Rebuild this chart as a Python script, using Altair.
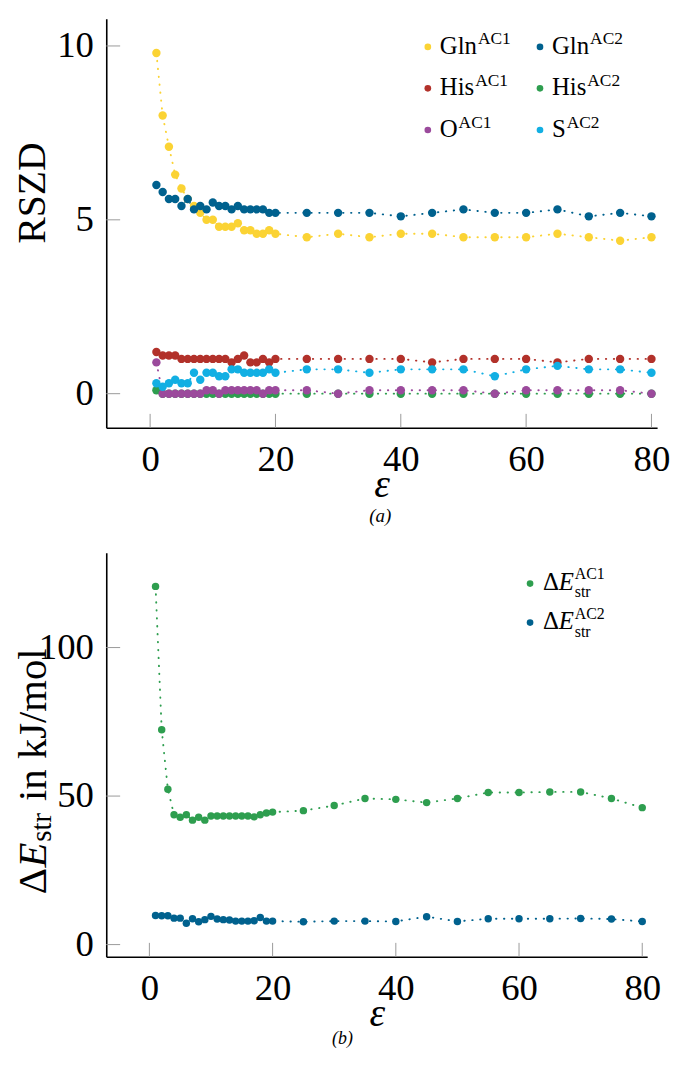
import altair as alt
import pandas as pd

FONT = "Liberation Serif"

# ---------------- data ----------------
eps = list(range(1, 21)) + [25, 30, 35, 40, 45, 50, 55, 60, 65, 70, 75, 80]

# panel (a): RSZD
series_a = ["Gln AC1", "Gln AC2", "His AC1", "His AC2", "O AC1", "S AC2"]
base_a = ["Gln", "Gln", "His", "His", "O", "S"]
sup_a = ["AC1", "AC2", "AC1", "AC2", "AC1", "AC2"]
colors_a = ["#FBD334", "#00618E", "#B2312A", "#2E9E4F", "#9B4A9C", "#12AFE3"]

gln_ac1 = [9.8, 8.0, 7.1, 6.3, 5.9, 5.6, 5.4, 5.2, 5.0, 5.0, 4.8, 4.8, 4.8, 4.9, 4.7, 4.7,
           4.6, 4.6, 4.7, 4.6, 4.5, 4.6, 4.5, 4.6, 4.6, 4.5, 4.5, 4.5, 4.6, 4.5, 4.4, 4.5]
gln_ac2 = [6.0, 5.8, 5.6, 5.6, 5.4, 5.6, 5.3, 5.4, 5.3, 5.5, 5.4, 5.4, 5.3, 5.4, 5.3, 5.3,
           5.3, 5.3, 5.2, 5.2, 5.2, 5.2, 5.2, 5.1, 5.2, 5.3, 5.2, 5.2, 5.3, 5.1, 5.2, 5.1]
his_ac1 = [1.2, 1.1, 1.1, 1.1, 1.0, 1.0, 1.0, 1.0, 1.0, 1.0, 1.0, 1.0, 0.9, 1.0, 1.1, 0.9,
           0.9, 1.0, 0.9, 1.0, 1.0, 1.0, 1.0, 1.0, 0.9, 1.0, 1.0, 1.0, 0.9, 1.0, 1.0, 1.0]
his_ac2 = [0.1, 0.0, 0.0, 0.0, 0.0, 0.0, 0.0, 0.0, 0.0, 0.0, 0.0, 0.0, 0.0, 0.0, 0.0, 0.0,
           0.0, 0.0, 0.0, 0.0, 0.0, 0.0, 0.0, 0.0, 0.0, 0.0, 0.0, 0.0, 0.0, 0.0, 0.0, 0.0]
o_ac1 = [0.9, 0.0, 0.0, 0.0, 0.0, 0.0, 0.0, 0.0, 0.1, 0.1, 0.0, 0.1, 0.1, 0.1, 0.1, 0.1,
         0.1, 0.0, 0.1, 0.1, 0.1, 0.0, 0.1, 0.1, 0.1, 0.1, 0.0, 0.1, 0.1, 0.1, 0.1, 0.0]
s_ac2 = [0.3, 0.2, 0.3, 0.4, 0.3, 0.3, 0.6, 0.4, 0.6, 0.6, 0.5, 0.5, 0.7, 0.7, 0.6, 0.6,
         0.6, 0.6, 0.7, 0.6, 0.7, 0.7, 0.6, 0.7, 0.7, 0.7, 0.5, 0.7, 0.8, 0.7, 0.7, 0.6]

# panel (b): strain energy
series_b = ["dE AC1", "dE AC2"]
sup_b = ["AC1", "AC2"]
colors_b = ["#2E9E4F", "#00618E"]
de_ac1 = [120.6, 72.3, 52.3, 43.7, 42.9, 43.7, 41.9, 42.9, 41.9, 43.3, 43.3, 43.3, 43.3, 43.3,
          43.3, 43.3, 43.0, 43.7, 44.3, 44.6, 45.1, 46.8, 49.2, 48.9, 47.8, 49.2, 51.2, 51.2,
          51.4, 51.4, 49.2, 46.1]
de_ac2 = [9.8, 9.7, 9.7, 8.9, 8.9, 7.2, 8.7, 7.7, 8.4, 9.5, 8.6, 8.4, 8.3, 7.9, 7.9, 7.9,
          8.0, 9.1, 7.9, 7.9, 7.7, 7.9, 7.9, 7.8, 9.4, 7.8, 8.7, 8.7, 8.7, 8.8, 8.6, 7.8]

x_ticks = [0, 20, 40, 60, 80]
y_ticks_a = [0, 5, 10]
y_ticks_b = [0, 50, 100]


def long_df(names, arrays):
    rows = []
    for n, arr in zip(names, arrays):
        for e, v in zip(eps, arr):
            rows.append({"series": n, "eps": e, "val": v})
    return pd.DataFrame(rows)


df_a = long_df(series_a, [gln_ac1, gln_ac2, his_ac1, his_ac2, o_ac1, s_ac2])
df_b = long_df(series_b, [de_ac1, de_ac2])

TICK_LEN = 14
TICK_COLOR = "#9a9a9a"
LBL = 37


def make_axis(ticks, **kw):
    return alt.Axis(values=ticks, ticks=False, tickSize=0, grid=False, domain=True,
                    domainColor="black", domainWidth=1.6, labelFont=FONT,
                    labelFontSize=LBL, labelColor="black", labelFlush=False,
                    labelOverlap=False, titleFont=FONT, titleFontSize=40,
                    titleFontWeight="normal", titleColor="black", **kw)


def panel(df, names, colors, xdom, ydom, w, h, yticks, yaxis_kw, size, x_title_y):
    xs = alt.Scale(domain=xdom, nice=False, zero=False)
    ys = alt.Scale(domain=ydom, nice=False, zero=False)
    xaxis = make_axis(x_ticks, labelPadding=14, title="ε",
                      titleFontStyle="italic", titleY=x_title_y,
                      titleBaseline="alphabetic")
    yaxis = make_axis(yticks, labelPadding=13, **yaxis_kw)
    color = alt.Color("series:N", scale=alt.Scale(domain=names, range=colors), legend=None)
    xe = alt.X("eps:Q", scale=xs, axis=xaxis)
    ye = alt.Y("val:Q", scale=ys, axis=yaxis)
    base = alt.Chart(df)
    lines = base.mark_line(strokeDash=[0.4, 7.6], strokeCap="round", strokeWidth=1.9).encode(
        x=xe, y=ye, color=color)
    pts = base.mark_circle(size=size, opacity=1).encode(x=xe, y=ye, color=color)
    yt = alt.Chart(pd.DataFrame({"v": yticks})).mark_rule(color=TICK_COLOR, strokeWidth=1).encode(
        y=alt.Y("v:Q", scale=ys, axis=yaxis), x=alt.value(0), x2=alt.value(TICK_LEN))
    xt = alt.Chart(pd.DataFrame({"v": x_ticks})).mark_rule(color=TICK_COLOR, strokeWidth=1).encode(
        x=alt.X("v:Q", scale=xs, axis=xaxis), y=alt.value(h), y2=alt.value(h - TICK_LEN))
    return [yt, xt, lines, pts]


def label(text, x, y, size=25, style="normal", angle=0, align="left", baseline="alphabetic"):
    kw = dict(text=text, font=FONT, fontSize=size, fontStyle=style, color="black",
              align=align, baseline=baseline)
    if angle:
        kw["angle"] = angle
    return alt.Chart(pd.DataFrame({"t": [text]})).mark_text(**kw).encode(
        x=alt.value(x), y=alt.value(y))


def dot(color, x, y, size=45):
    return alt.Chart(pd.DataFrame({"c": [color]})).mark_circle(size=size, opacity=1, color=color).encode(
        x=alt.value(x), y=alt.value(y))


# ---------------- panel (a) ----------------
WA, HA = 555, 412
layers_a = panel(df_a, series_a, colors_a, [-7.0, 80.9], [-0.98, 10.78], WA, HA, y_ticks_a,
                 dict(title="RSZD", titleAngle=270, titleX=-62, titleY=175,
                      titleAlign="center", titleBaseline="alphabetic"), 72, 69)

col_dot = [324.0, 437.0]
col_txt = [336.0, 449.0]
row_dot = [28.3, 70.0, 112.0]
row_txt = [35.0, 77.0, 119.0]
base_w = {"Gln": 37.5, "His": 34.7, "O": 18.0, "S": 13.9}
for i, (b, s, c) in enumerate(zip(base_a, sup_a, colors_a)):
    col, row = i % 2, i // 2
    layers_a.append(dot(c, col_dot[col], row_dot[row]))
    layers_a.append(label(b, col_txt[col], row_txt[row], 25))
    layers_a.append(label(s, col_txt[col] + base_w[b] + 1, row_txt[row] - 9.5, 17.5))
layers_a.append(label("(a)", 276.0, 501, 19, "italic", align="center", baseline="middle"))
chart_a = alt.layer(*layers_a).properties(width=WA, height=HA)

# ---------------- panel (b) ----------------
WB, HB = 545, 407
layers_b = panel(df_b, series_b, colors_b, [-7.0, 80.8], [-4.1, 131.9], WB, HB, y_ticks_b,
                 dict(title=None), 56, 69)

# rotated y title: ΔE_str in kJ/mol
BX = -61.0
layers_b += [
    label("Δ", BX, 344, 41, angle=270),
    label("E", BX, 317, 41, "italic", angle=270),
    label("str", BX + 5, 291, 29, angle=270),
    label("in kJ/mol", BX, 250, 41, angle=270),
]
rowb_dot = [31.0, 70.3]
rowb_txt = [37.0, 77.0]
for i, (s, c) in enumerate(zip(sup_b, colors_b)):
    layers_b.append(dot(c, 427, rowb_dot[i]))
    layers_b.append(label("Δ", 440, rowb_txt[i], 25))
    layers_b.append(label("E", 456, rowb_txt[i], 25, "italic"))
    layers_b.append(label(s, 472, rowb_txt[i] - 10.5, 16))
    layers_b.append(label("str", 472, rowb_txt[i] + 7.5, 16))
layers_b.append(label("(b)", 238.0, 490, 18, "italic", align="center", baseline="middle"))
chart_b = alt.layer(*layers_b).properties(width=WB, height=HB)

chart = alt.vconcat(chart_a, chart_b, spacing=126, bounds="flush",
                    padding={"left": 4, "top": 7, "right": 0, "bottom": -4}
                    ).resolve_scale(color="independent").configure_view(stroke=None)

chart.save("out.html", embed_options={"renderer": "svg", "actions": False})
